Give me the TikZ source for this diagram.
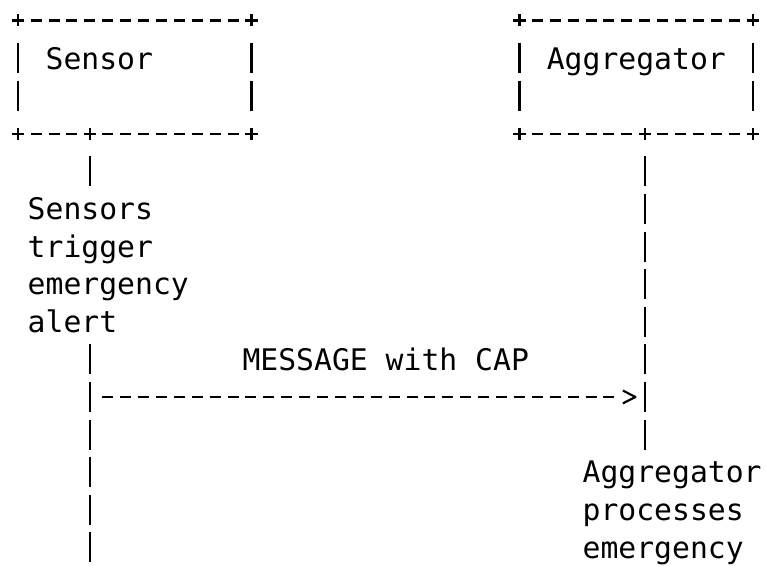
\documentclass[tikz,border=0pt]{standalone}
\usepackage{fontspec}
\setmonofont{DejaVu Sans Mono}
\usetikzlibrary{calc}

% one x unit = one character column, one y unit = one text row
\tikzset{
  hrun/.style={line width=1.6pt, dash pattern=on 8.25pt off 5.175pt},
  vrun/.style={line width=1.6pt, dash pattern=on 22.5pt off 5.7pt},
  txt/.style={anchor=base west, inner sep=0pt, font=\ttfamily\fontsize{22.3}{28}\selectfont},
  box/.style={rectangle, inner sep=0pt, minimum width=13*13.425pt, minimum height=3*28.2pt},
}
\newcommand{\pluscorner}[1]{%
  \draw[line width=1.6pt] ($(#1)+(-.34,0)$)--($(#1)+(.34,0)$) ($(#1)+(0,-.16)$)--($(#1)+(0,.16)$);}

\begin{document}
\begin{tikzpicture}[x=13.425pt, y=-28.2pt]
            \useasboundingbox (-1.034,-.551) rectangle (41.76,14.5);
            \node[box] (sensor) at (6.5,1.5) {};
            \node[box] (aggregator) at (34.5,1.5) {};
            \node[txt] (sensorlbl) at (1.5,1.293) {Sensor};
            \node[txt] (aggregatorlbl) at (29.5,1.293) {Aggregator};
            \coordinate (sline) at ($(sensor.south west)+(4,0)$);
            \coordinate (aline) at ($(aggregator.south west)+(7,0)$);
            % box outlines
            \foreach \b in {sensor,aggregator}{
              \pluscorner{\b.north west}
              \pluscorner{\b.north east}
              \pluscorner{\b.south west}
              \pluscorner{\b.south east}
              \draw[hrun] ($(\b.north west)+(.693,0)$)--($(\b.north east)+(-.693,0)$);
              \draw[vrun] ($(\b.north west)+(0,.601)$)--($(\b.south west)+(0,-.601)$);
              \draw[vrun] ($(\b.north east)+(0,.601)$)--($(\b.south east)+(0,-.601)$);
            }
            \pluscorner{sline}
            \pluscorner{aline}
            \draw[hrun] ($(sensor.south west)+(.693,0)$)--($(sline)+(-.693,0)$);
            \draw[hrun] ($(sline)+(.693,0)$)--($(sensor.south east)+(-.693,0)$);
            \draw[hrun] ($(aggregator.south west)+(.693,0)$)--($(aline)+(-.693,0)$);
            \draw[hrun] ($(aline)+(.693,0)$)--($(aggregator.south east)+(-.693,0)$);
            % lifelines
            \draw[vrun] ($(sline)+(0,.601)$)--($(sline)+(0,1.399)$);
            \draw[vrun] ($(sline)+(0,5.601)$)--($(sline)+(0,11.399)$);
            \draw[vrun] ($(aline)+(0,.601)$)--($(aline)+(0,8.399)$);
            \foreach \w [count=\i] in {Sensors,trigger,emergency,alert}
              \node[txt] (snote\i) at (.5,4.293+\i) {\w};
            \foreach \w [count=\i] in {Aggregator,processes,emergency}
              \node[txt] (anote\i) at (31.5,11.293+\i) {\w};
            % message
            \node[txt] (msglbl) at (12.5,9.293) {MESSAGE with CAP};
            \draw[hrun] ($(sline)+(.693,7)$)--($(aline)+(-1.693,7)$);
            \draw[line width=1.6pt, line join=round] ($(aline)+(-1.22,6.83)$)--($(aline)+(-.52,7)$)--($(aline)+(-1.22,7.17)$);
        \end{tikzpicture}
\end{document}
